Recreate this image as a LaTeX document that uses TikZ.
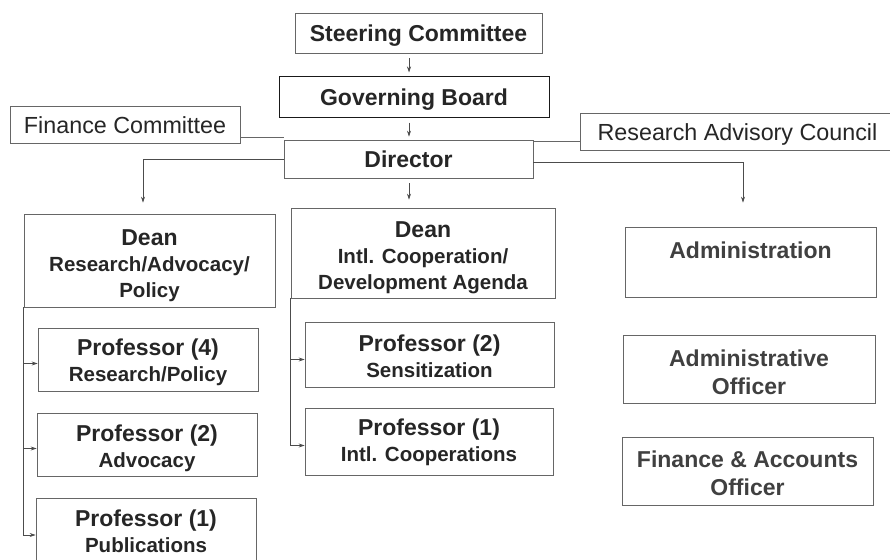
\documentclass[tikz,border=0pt]{standalone}
\usepackage{fontspec}
\setmainfont{Liberation Sans}
\usetikzlibrary{arrows.meta}
\newcommand\subfnt{\fontsize{20.5}{26}\selectfont\bfseries}
\newcommand\fl[1]{\rule{0pt}{#1pt}}
\tikzset{
  box/.style={draw=black!60, line width=0.7pt, inner sep=0pt, align=center, text=black!85, rectangle,
    font=\fontsize{23}{26}\selectfont\bfseries,
    execute at begin node={\rule{0pt}{22pt}},
    execute at end node={\rule[-5pt]{0pt}{5pt}}},
  regbox/.style={box, font=\fontsize{23.3}{26}\selectfont},
  ln/.style={draw=black!60, line width=0.7pt},
  arr/.style={draw=black!70, line width=0.7pt, -{Stealth[length=6pt,width=4pt]}},
}
\begin{document}
\begin{tikzpicture}[x=1pt,y=-1pt]
\fill[white] (0,0) rectangle (890,559);
\useasboundingbox (0,0) rectangle (890,559);

% top chain
\node[box, minimum width=247pt, minimum height=40pt] (sc) at (418.5,33) {Steering Committee};
\node[box, draw=black!90, line width=1pt, minimum width=270pt, minimum height=40pt] (gb) at (414,97) {Governing Board};
\node[box, minimum width=249pt, minimum height=38pt] (dir) at (408.5,159) {Director};
\node[regbox, minimum width=230pt, minimum height=37pt] (fc) at (125,124.5) {Finance Committee};
\node[regbox, minimum width=315pt, minimum height=37pt] (rac) at (737.5,131.5) {Research Advisory Council};

% left column
\node[box, minimum width=251pt, minimum height=93pt] (deanL) at (149.5,260.5) {\fl{27}Dean\\\subfnt Research/Advocacy/\\\subfnt Policy};
\node[box, minimum width=220pt, minimum height=63pt] (p4) at (148,359.5) {\fl{22}Professor (4)\\\subfnt Research/Policy};
\node[box, minimum width=220pt, minimum height=63pt] (p2a) at (147,444.5) {\fl{25}Professor (2)\\\subfnt Advocacy};
\node[box, minimum width=220pt, minimum height=64pt] (p1p) at (146,530) {\fl{23}Professor (1)\\\subfnt Publications};

% middle column
\node[box, minimum width=264pt, minimum height=90pt] (deanM) at (423,253) {\fl{25}Dean\\\subfnt Intl. Cooperation/\\\subfnt Development Agenda};
\node[box, minimum width=249pt, minimum height=65pt] (p2s) at (429.5,354.5) {\fl{25}Professor (2)\\\subfnt Sensitization};
\node[box, minimum width=248pt, minimum height=67pt] (p1i) at (429,441.5) {\fl{19}Professor (1)\\\subfnt Intl. Cooperations};

% right column
\node[box, text=black!75, execute at end node={\rule[-29pt]{0pt}{29pt}}, minimum width=251pt, minimum height=70pt] (adm) at (750.5,262) {Administration};
\node[box, text=black!75, minimum width=252pt, minimum height=68pt] (ao) at (749,369) {\fl{27}Administrative\\[2pt]Officer};
\node[box, text=black!75, minimum width=251pt, minimum height=68pt] (fao) at (747.5,471) {\fl{25}Finance \& Accounts\\[2pt]Officer};

% helper coordinates
\coordinate (ax) at (409,0);
\coordinate (lx) at (143,0);
\coordinate (rx) at (743,0);
\coordinate (fy) at (0,137);
\coordinate (ry) at (0,141);

% connectors
\draw[arr, shorten <=5pt, shorten >=4pt] (sc.south -| ax) -- (gb.north -| ax);
\draw[arr, shorten <=5pt, shorten >=3pt] (gb.south -| ax) -- (dir.north -| ax);
\draw[arr, shorten <=5pt, shorten >=8pt] (dir.south -| ax) -- (deanM.north -| ax);
\draw[ln] (fc.east |- fy) -- (dir.west |- fy);
\draw[ln] (dir.east |- ry) -- (rac.west |- ry);
\draw[arr, shorten >=11pt] (dir.west) -| (deanL.north -| lx);
\draw[arr, shorten >=24pt] ([yshift=-3pt]dir.east) -| (adm.north -| rx);

% left spine
\coordinate (a4) at ([yshift=-4pt]p4.west);
\coordinate (a2) at ([yshift=-4pt]p2a.west);
\coordinate (a1) at ([yshift=-5pt]p1p.west);
\draw[arr] (deanL.south west) |- (a1);
\draw[arr] (deanL.south west |- a4) -- (a4);
\draw[arr] (deanL.south west |- a2) -- (a2);

% middle spine
\coordinate (b2) at ([yshift=-5pt]p2s.west);
\coordinate (b1) at ([yshift=-4pt]p1i.west);
\draw[arr] (deanM.south west) |- (b1);
\draw[arr] (deanM.south west |- b2) -- (b2);
\end{tikzpicture}
\end{document}
